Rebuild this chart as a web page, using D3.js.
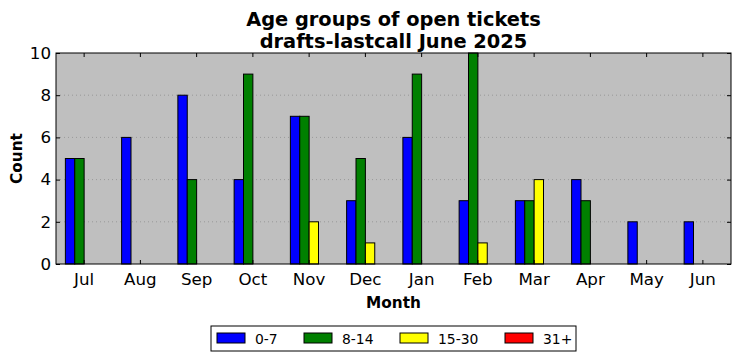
<!DOCTYPE html>
<html>
<head>
<meta charset="utf-8">
<script src="https://cdn.jsdelivr.net/npm/d3@7"></script>
<style>
  body { margin: 0; background: #fff; }
  svg { font-family: "DejaVu Sans", sans-serif; }
</style>
</head>
<body>
<svg id="chart" width="741" height="361"></svg>
<script>
const months = ["Jul", "Aug", "Sep", "Oct", "Nov", "Dec", "Jan", "Feb", "Mar", "Apr", "May", "Jun"];
const groups = ["0-7", "8-14", "15-30", "31+"];
const colors = ["#0000ff", "#008000", "#ffff00", "#ff0000"];
const age0to7 = [5, 6, 8, 4, 7, 3, 6, 3, 3, 4, 2, 2];
const age8to14 = [5, 0, 4, 9, 7, 5, 9, 10, 3, 3, 0, 0];
const age15to30 = [0, 0, 0, 0, 2, 1, 0, 1, 4, 0, 0, 0];
const age31plus = [0, 0, 0, 0, 0, 0, 0, 0, 0, 0, 0, 0];
const yTicks = [0, 2, 4, 6, 8, 10];

const series = [age0to7, age8to14, age15to30, age31plus];
const margin = {left: 56, right: 10, top: 53, bottom: 97};
const width = 741 - margin.left - margin.right;
const height = 361 - margin.top - margin.bottom;

const svg = d3.select("#chart");
const g = svg.append("g").attr("transform", "translate(" + margin.left + "," + margin.top + ")");

const x = d3.scaleBand().domain(months).range([0, width]);
const bw = x.bandwidth() / 6;
const y = d3.scaleLinear().domain([0, 10]).range([height, 0]);

// plot background
g.append("rect").attr("width", width).attr("height", height).attr("fill", "#bfbfbf");

// grid
g.selectAll(".grid").data(yTicks.slice(1, -1)).enter().append("line")
  .attr("x1", 0).attr("x2", width)
  .attr("y1", d => y(d)).attr("y2", d => y(d))
  .attr("stroke", "#7f7f7f").attr("stroke-width", 0.6).attr("stroke-dasharray", "1,3");

// bars
series.forEach((vals, i) => {
  g.selectAll(".bar" + i).data(vals).enter().append("rect")
    .attr("x", (d, j) => x(months[j]) + x.bandwidth() / 2 - 2 * bw + i * bw)
    .attr("y", d => y(d))
    .attr("width", bw)
    .attr("height", d => height - y(d))
    .attr("fill", colors[i])
    .attr("stroke", "#000").attr("stroke-width", 1);
});

// axes with inward ticks
const tickLen = 4;
const xb = g.append("g").attr("transform", "translate(0," + height + ")")
  .call(d3.axisBottom(x).tickSizeInner(-tickLen).tickSizeOuter(0).tickPadding(9));
const xt = g.append("g")
  .call(d3.axisTop(x).tickSizeInner(-tickLen).tickSizeOuter(0).tickFormat(""));
const yl = g.append("g")
  .call(d3.axisLeft(y).tickValues(yTicks).tickSizeInner(-tickLen).tickSizeOuter(0).tickPadding(5));
const yr = g.append("g").attr("transform", "translate(" + width + ",0)")
  .call(d3.axisRight(y).tickValues(yTicks).tickSizeInner(-tickLen).tickSizeOuter(0).tickFormat(""));
[xb, xt, yl, yr].forEach(a => {
  a.select(".domain").remove();
  a.selectAll("line").attr("stroke", "#000");
  a.selectAll("text").attr("font-size", 16.7).attr("fill", "#000").attr("font-family", "DejaVu Sans");
});

// frame
g.append("rect").attr("width", width).attr("height", height)
  .attr("fill", "none").attr("stroke", "#000").attr("stroke-width", 1);

// title
svg.append("text").attr("x", margin.left + width / 2).attr("y", 26)
  .attr("text-anchor", "middle").attr("font-size", 19.4).attr("font-weight", "bold")
  .text("Age groups of open tickets");
svg.append("text").attr("x", margin.left + width / 2).attr("y", 48)
  .attr("text-anchor", "middle").attr("font-size", 19.4).attr("font-weight", "bold")
  .text("drafts-lastcall June 2025");

// axis labels
svg.append("text").attr("x", margin.left + width / 2).attr("y", 308)
  .attr("text-anchor", "middle").attr("font-size", 15.3).attr("font-weight", "bold").text("Month");
svg.append("text").attr("transform", "translate(22," + (margin.top + height / 2) + ") rotate(-90)")
  .attr("text-anchor", "middle").attr("font-size", 15.3).attr("font-weight", "bold").text("Count");

// legend
const leg = svg.append("g").attr("transform", "translate(211,326)");
leg.append("rect").attr("width", 365).attr("height", 25)
  .attr("fill", "#fff").attr("stroke", "#000").attr("stroke-width", 1);
const legX = [6, 93, 189, 294];
groups.forEach((name, i) => {
  leg.append("rect").attr("x", legX[i]).attr("y", 7).attr("width", 28).attr("height", 10)
    .attr("fill", colors[i]).attr("stroke", "#000").attr("stroke-width", 1);
  leg.append("text").attr("x", legX[i] + 38).attr("y", 17.5)
    .attr("font-size", 13.9).text(name);
});
</script>
</body>
</html>
